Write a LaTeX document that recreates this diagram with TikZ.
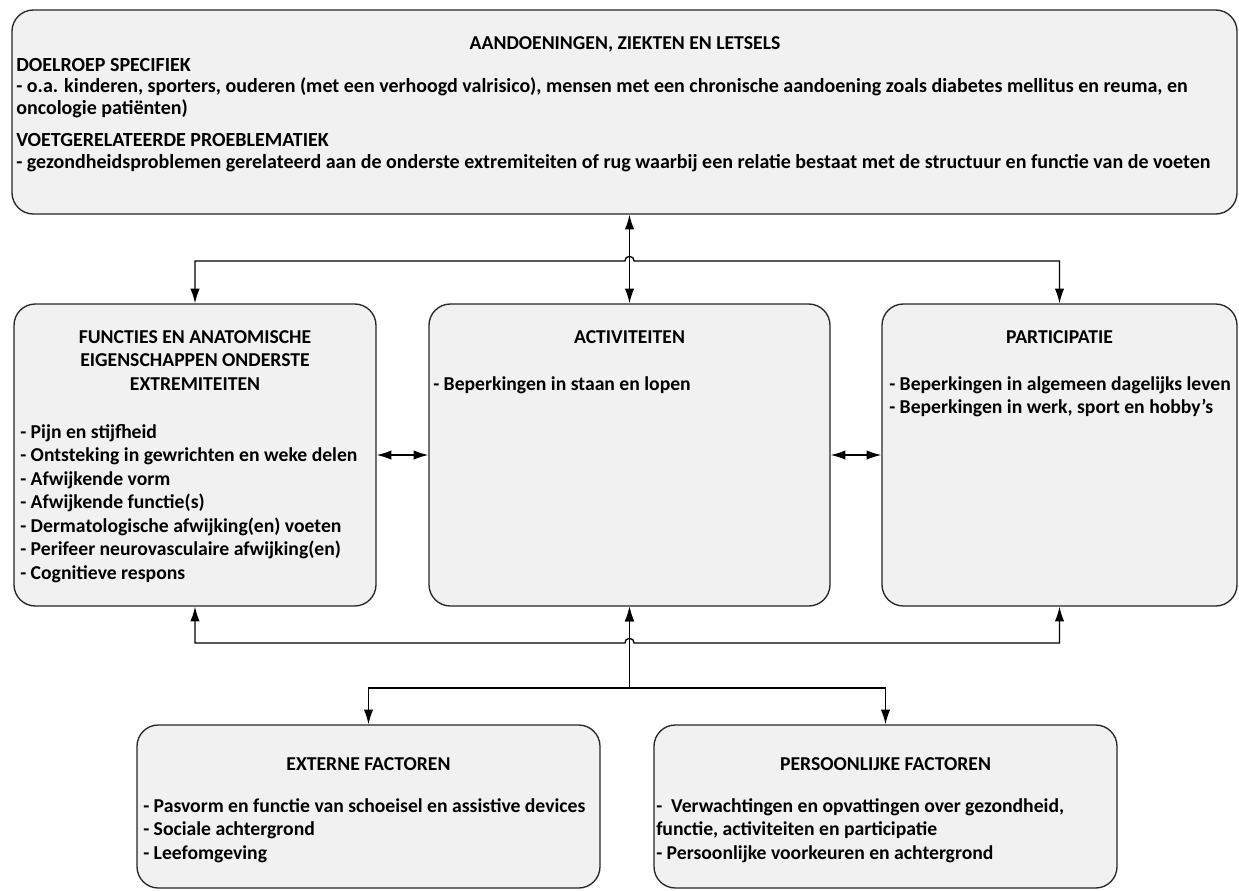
\documentclass[tikz,border=0pt]{standalone}
\usepackage{fontspec}
\setmainfont{Carlito}
\usetikzlibrary{arrows.meta}

\definecolor{boxgray}{HTML}{F1F1F1}
\newcommand{\pxu}{0.75pt}

\begin{document}
\begin{tikzpicture}[x=0.75pt, y=-0.75pt,
    font=\bfseries\fontsize{14.75}{17.6}\selectfont,
    box/.style={draw=black!85, line width=1pt, fill=boxgray, rounded corners=16pt, inner sep=0pt},
    head/.style={align=center, inner sep=0pt, anchor=north},
    items/.style={align=left, inner sep=0pt, anchor=north west},
    link/.style={{Latex[length=11pt,width=7pt]}-{Latex[length=11pt,width=7pt]}, line width=1pt}]
    \useasboundingbox (0,0) rectangle (1239,890);

    % Boxes
    \node[box, minimum width=1225*\pxu, minimum height=204*\pxu] (top) at (624.5,112) {};
    \node[box, minimum width=362*\pxu, minimum height=302*\pxu] (func) at (195,455) {};
    \node[box, minimum width=401*\pxu, minimum height=302*\pxu] (act) at (629.5,455) {};
    \node[box, minimum width=355*\pxu, minimum height=302*\pxu] (part) at (1059.5,455) {};
    \node[box, minimum width=463*\pxu, minimum height=163*\pxu] (ext) at (368.5,806.5) {};
    \node[box, minimum width=463*\pxu, minimum height=163*\pxu] (pers) at (885.5,806.5) {};

    % Texts
    \node[head] (toptitle) at (625,36) {AANDOENINGEN, ZIEKTEN EN LETSELS};
    \node[items, font=\bfseries\fontsize{15}{16.2}\selectfont] (toptext) at (16,58) {DOELROEP SPECIFIEK\\
        - o.a. kinderen, sporters, ouderen (met een verhoogd valrisico), mensen met een chronische aandoening zoals diabetes mellitus en reuma, en\\
        oncologie patiënten)\\[8pt]
        VOETGERELATEERDE PROEBLEMATIEK\\
        - gezondheidsproblemen gerelateerd aan de onderste extremiteiten of rug waarbij een relatie bestaat met de structuur en functie van de voeten};

    \node[head] (functitle) at (195,330) {FUNCTIES EN ANATOMISCHE\\EIGENSCHAPPEN ONDERSTE\\EXTREMITEITEN};
    \node[items] (functext) at (20,424) {- Pijn en stijfheid\\
        - Ontsteking in gewrichten en weke delen\\
        - Afwijkende vorm\\
        - Afwijkende functie(s)\\
        - Dermatologische afwijking(en) voeten\\
        - Perifeer neurovasculaire afwijking(en)\\
        - Cognitieve respons};

    \node[head] (acttitle) at (629.5,330) {ACTIVITEITEN};
    \node[items] (acttext) at (433,376) {- Beperkingen in staan en lopen};

    \node[head] (parttitle) at (1059.5,330) {PARTICIPATIE};
    \node[items] (parttext) at (889,376) {- Beperkingen in algemeen dagelijks leven\\
        - Beperkingen in werk, sport en hobby’s};

    \node[head] (exttitle) at (368.5,757) {EXTERNE FACTOREN};
    \node[items] (exttext) at (143,798) {- Pasvorm en functie van schoeisel en assistive devices\\
        - Sociale achtergrond\\
        - Leefomgeving};

    \node[head] (perstitle) at (885.5,757) {PERSOONLIJKE FACTOREN};
    \node[items] (perstext) at (656,798) {-\ \ Verwachtingen en opvattingen over gezondheid,\\
        functie, activiteiten en participatie\\
        - Persoonlijke voorkeuren en achtergrond};

    % Connectors
    \coordinate (upbus) at (629.5,261);
    \coordinate (lowbus) at (629.5,643);
    \coordinate (split) at (629.5,688);

    \draw[link] (act.north) -- (act.north |- top.south);
    \draw[link] (func.north) |- ([xshift=-3.5pt]upbus) arc[start angle=180, end angle=0, radius=3.5pt] -| (part.north);
    \draw[link] (func.east) -- (act.west);
    \draw[link] (act.east) -- (part.west);
    \draw[link] (func.south) |- ([xshift=-3.5pt]lowbus) arc[start angle=180, end angle=0, radius=3.5pt] -| (part.south);
    \draw[link] (act.south) -- (split) -| (ext.north);
    \draw[link] (act.south) -- (split) -| (pers.north);
\end{tikzpicture}
\end{document}
